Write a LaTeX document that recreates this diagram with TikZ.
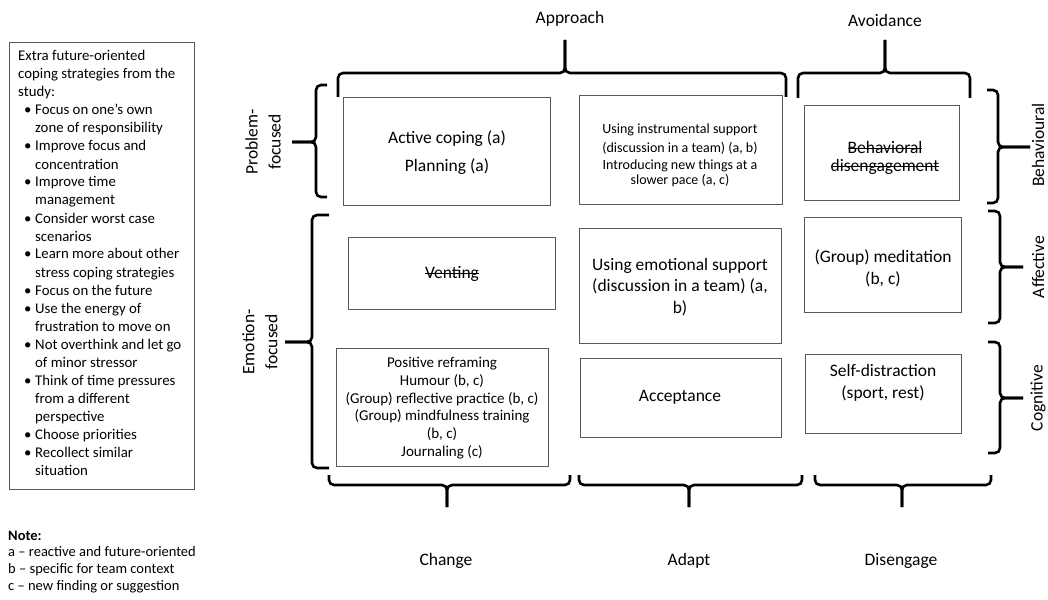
\documentclass[tikz,border=0pt]{standalone}
\usepackage{fontspec}
\setmainfont{Carlito}
\newcommand\strk[1]{\setbox0=\hbox{#1}\rlap{\rule[0.27em]{\wd0}{0.065em}}\box0}
\newcommand\bl{\makebox[17pt][l]{\hspace{6pt}\textbullet}}
\newcommand\ind{\hspace*{17pt}}
\newcommand\fz[2]{\fontsize{#1}{#2}\selectfont}
\begin{document}
\begin{tikzpicture}[x=1pt,y=-1pt,
  brc/.style={line width=2.6pt,rounded corners=5pt},
  cell/.style={draw=black!65,line width=1pt,anchor=north west,inner sep=0pt},
  txt/.style={align=center,inner sep=0pt,text=black},
  lab/.style={inner sep=0pt,font=\fz{17.5}{21}},
  vlab/.style={inner sep=0pt,font=\fz{17.5}{23},rotate=90,align=center}]
\useasboundingbox (0,0) rectangle (1048,599);

% left info box
\node[cell,minimum width=185pt,minimum height=447pt] (info) at (9,42) {};
\node[anchor=base west,inner sep=0pt] (infot) at (18,61) {\parbox[t]{175pt}{\fz{14.8}{18}\raggedright
Extra future-oriented\\
coping strategies from the\\
study:\\
\bl Focus on one’s own\\
\ind zone of responsibility\\
\bl Improve focus and\\
\ind concentration\\
\bl Improve time\\
\ind management\\
\bl Consider worst case\\
\ind scenarios\\
\bl Learn more about other\\
\ind stress coping strategies\\
\bl Focus on the future\\
\bl Use the energy of\\
\ind frustration to move on\\
\bl Not overthink and let go\\
\ind of minor stressor\\
\bl Think of time pressures\\
\ind from a different\\
\ind perspective\\
\bl Choose priorities\\
\bl Recollect similar\\
\ind situation}};

% note
\node[anchor=base west,inner sep=0pt] (note) at (8,540) {\parbox[t]{230pt}{\fz{14.5}{16.8}\raggedright
\textbf{Note:}\\
a – reactive and future-oriented\\
b – specific for team context\\
c – new finding or suggestion}};

% cells
\node[cell,minimum width=207pt,minimum height=108pt] (a1) at (343,97) {};
\node[cell,minimum width=203pt,minimum height=109pt] (a2) at (579,95) {};
\node[cell,minimum width=155pt,minimum height=95pt] (a3) at (804,105) {};
\node[cell,minimum width=207pt,minimum height=72pt] (b1) at (348,237) {};
\node[cell,minimum width=202pt,minimum height=115pt] (b2) at (579,228) {};
\node[cell,minimum width=157pt,minimum height=95pt] (b3) at (804,217) {};
\node[cell,minimum width=212pt,minimum height=118pt] (c1) at (336,348) {};
\node[cell,minimum width=201pt,minimum height=79pt] (c2) at (580,358) {};
\node[cell,minimum width=156pt,minimum height=79pt] (c3) at (805,354) {};

% cell texts
\node[txt,font=\fz{17.5}{28}] (a1t) at (447,153) {Active coping (a)\\Planning (a)};
\node[txt,font=\fz{14}{15}] (a2t) at (680,155) {Using instrumental support\\[4pt](discussion in a team) (a, b)\\[2pt]Introducing new things at a\\slower pace (a, c)};
\node[txt,font=\fz{17.5}{18}] (a3t) at (885,158) {\strk{Behavioral}\\\strk{disengagement}};
\node[txt,font=\fz{17.5}{21}] (b1t) at (452,274) {\strk{Venting}};
\node[txt,font=\fz{17.5}{21.5}] (b2t) at (680,287) {Using emotional support\\(discussion in a team) (a,\\b)};
\node[txt,font=\fz{17.5}{22}] (b3t) at (883,268) {(Group) meditation\\(b, c)};
\node[txt,font=\fz{15}{17.8}] (c1t) at (442,408) {Positive reframing\\Humour (b, c)\\(Group) reflective practice (b, c)\\(Group) mindfulness training\\(b, c)\\Journaling (c)};
\node[txt,font=\fz{17.5}{21}] (c2t) at (680,397) {Acceptance};
\node[txt,font=\fz{17.5}{22}] (c3t) at (883,383) {Self-distraction\\(sport, rest)};

% top braces
\draw[brc] (338,97) -- (338,73) -- (565,73) -- (565,40);
\draw[brc] (786,97) -- (786,73) -- (565,73) -- (565,40);
\draw[brc] (798,98) -- (798,73) -- (885,73) -- (885,40);
\draw[brc] (970,98) -- (970,73) -- (885,73) -- (885,40);
\node[lab] (approach) at (570,19) {Approach};
\node[lab] (avoid) at (885,20) {Avoidance};

% left braces
\draw[brc] (327,85) -- (316,85) -- (316,142) -- (292,142);
\draw[brc] (327,197) -- (316,197) -- (316,142) -- (292,142);
\draw[brc] (329,215) -- (312,215) -- (312,342) -- (285,342);
\draw[brc] (329,468) -- (312,468) -- (312,342) -- (285,342);
\node[vlab] (pf) at (263,142) {Problem-\\focused};
\node[vlab] (ef) at (260,342) {Emotion-\\focused};

% right braces
\draw[brc] (987,90) -- (998,90) -- (998,147) -- (1030,147);
\draw[brc] (987,203) -- (998,203) -- (998,147) -- (1030,147);
\draw[brc] (988,211) -- (1000,211) -- (1000,267) -- (1023,267);
\draw[brc] (988,323) -- (1000,323) -- (1000,267) -- (1023,267);
\draw[brc] (988,342) -- (1000,342) -- (1000,398) -- (1023,398);
\draw[brc] (988,453) -- (1000,453) -- (1000,398) -- (1023,398);
\node[vlab] (beh) at (1038,145) {Behavioural};
\node[vlab] (aff) at (1038,267) {Affective};
\node[vlab] (cog) at (1038,398) {Cognitive};

% bottom braces
\draw[brc] (329,475) -- (329,485) -- (447,485) -- (447,507);
\draw[brc] (570,475) -- (570,485) -- (447,485) -- (447,507);
\draw[brc] (579,475) -- (579,485) -- (689,485) -- (689,507);
\draw[brc] (802,475) -- (802,485) -- (689,485) -- (689,507);
\draw[brc] (815,475) -- (815,485) -- (902,485) -- (902,507);
\draw[brc] (991,475) -- (991,485) -- (902,485) -- (902,507);
\node[lab] (change) at (446,561) {Change};
\node[lab] (adapt) at (689,561) {Adapt};
\node[lab] (diseng) at (901,561) {Disengage};
\end{tikzpicture}
\end{document}
